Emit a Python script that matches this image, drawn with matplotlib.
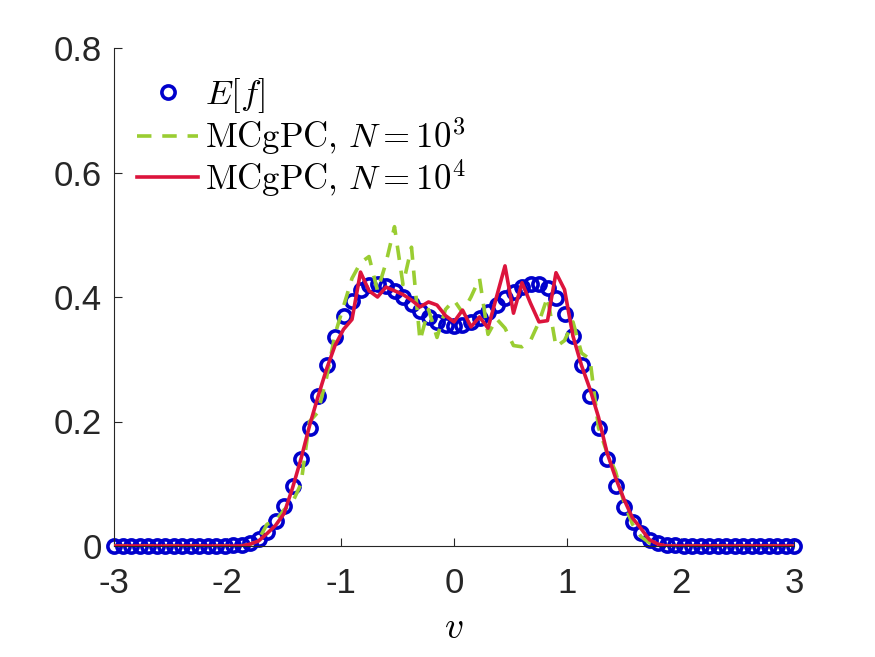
import numpy as np
import matplotlib
matplotlib.use("Agg")
import matplotlib.pyplot as plt

plt.rcParams['font.family'] = ['Liberation Sans', 'DejaVu Sans']
plt.rcParams['mathtext.fontset'] = 'cm'

# velocity grid
v = np.linspace(-3, 3, 81)

# E[f] (circles)
Ef = [0, 0, 0, 0, 0, 0, 0, 0, 0, 0, 0, 0, 0, 0,
      0.001, 0.002, 0.005, 0.011, 0.022, 0.040, 0.064, 0.097, 0.140, 0.189,
      0.241, 0.291, 0.336, 0.370, 0.394, 0.412, 0.419, 0.421, 0.418, 0.410,
      0.400, 0.389, 0.378, 0.368, 0.360, 0.355, 0.353,
      0.355, 0.360, 0.367, 0.376, 0.387, 0.398, 0.408, 0.416, 0.421, 0.421,
      0.414, 0.398, 0.372, 0.338, 0.291, 0.241, 0.189, 0.140, 0.096, 0.063,
      0.039, 0.021, 0.010, 0.005, 0.002, 0.001,
      0, 0, 0, 0, 0, 0, 0, 0, 0, 0, 0, 0, 0, 0]

# MCgPC, N = 10^3 (green dashed)
mc3 = [0, 0, 0, 0, 0, 0, 0, 0, 0, 0, 0, 0, 0, 0, 0, 0,
       0.002, 0.010, 0.035, 0.040, 0.058, 0.070, 0.100, 0.200, 0.215, 0.270,
       0.340, 0.385, 0.430, 0.455, 0.465, 0.410, 0.455, 0.513, 0.420, 0.480,
       0.330, 0.380, 0.335, 0.380, 0.395,
       0.375, 0.400, 0.430, 0.340, 0.365, 0.350, 0.322, 0.320, 0.330, 0.360,
       0.400, 0.320, 0.330, 0.360, 0.310, 0.300, 0.190, 0.150, 0.120, 0.070,
       0.035, 0.015, 0.005,
       0, 0, 0, 0, 0, 0, 0, 0, 0, 0, 0, 0, 0, 0, 0, 0, 0]

# MCgPC, N = 10^4 (red solid)
mc4 = [0, 0, 0, 0, 0, 0, 0, 0, 0, 0, 0, 0, 0, 0, 0, 0,
       0.003, 0.008, 0.020, 0.033, 0.052, 0.093, 0.140, 0.193, 0.240, 0.284,
       0.322, 0.348, 0.364, 0.440, 0.410, 0.400, 0.416, 0.410, 0.404, 0.395,
       0.384, 0.392, 0.387, 0.370, 0.360,
       0.379, 0.352, 0.368, 0.350, 0.400, 0.450, 0.374, 0.423, 0.390, 0.360,
       0.362, 0.439, 0.412, 0.337, 0.290, 0.252, 0.207, 0.150, 0.110, 0.075,
       0.045, 0.028, 0.010, 0.003,
       0, 0, 0, 0, 0, 0, 0, 0, 0, 0, 0, 0, 0, 0, 0, 0]

xticks = [-3, -2, -1, 0, 1, 2, 3]
xticklabels = ['-3', '-2', '-1', '0', '1', '2', '3']
yticks = [0, 0.2, 0.4, 0.6, 0.8]
yticklabels = ['0', '0.2', '0.4', '0.6', '0.8']

fig = plt.figure(figsize=(8.75, 6.57), dpi=100)
ax = fig.add_axes([114/875, 111/657, 680/875, 498/657])

ax.plot(v, Ef, linestyle='none', marker='o', markersize=9.5, markeredgewidth=2.6,
        markerfacecolor='none', markeredgecolor='#0000CC', clip_on=False,
        label=r'$E[f]$', zorder=2)
ax.plot(v, mc3, color='#9ACD32', linewidth=2.6, linestyle=(0, (4.0, 3.0)),
        label=r'$\mathrm{MCgPC},\,N=10^3$', zorder=3)
ax.plot(v, mc4, color='#DC143C', linewidth=2.6,
        label=r'$\mathrm{MCgPC},\,N=10^4$', zorder=4)

ax.set_xlim(-3, 3)
ax.set_ylim(0, 0.8)
ax.set_xticks(xticks)
ax.set_xticklabels(xticklabels)
ax.set_yticks(yticks)
ax.set_yticklabels(yticklabels)

for s in ['top', 'right']:
    ax.spines[s].set_visible(False)
for s in ['left', 'bottom']:
    ax.spines[s].set_color('#262626')
    ax.spines[s].set_linewidth(0.8)

ax.tick_params(direction='in', length=6, width=0.8, colors='#262626',
               labelsize=25, labelcolor='#262626')
ax.tick_params(axis='x', pad=15)
ax.tick_params(axis='y', pad=9)

ax.set_xlabel(r'$v$', fontsize=27, labelpad=7)

leg = ax.legend(loc='upper left', bbox_to_anchor=(0.034, 0.943), frameon=False,
                fontsize=25, handlelength=1.76, handletextpad=0.2,
                labelspacing=0.0, borderaxespad=0.0, borderpad=0.0)

fig.savefig('out.png', dpi=100)
